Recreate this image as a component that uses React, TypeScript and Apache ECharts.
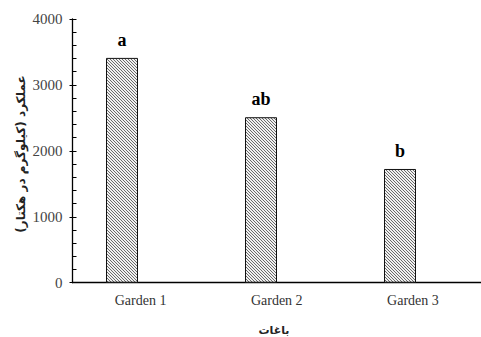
import React, { useEffect, useRef } from 'react';
import * as echarts from 'echarts';

const categories = ['Garden 1', 'Garden 2', 'Garden 3'];
const yields = [3410, 2510, 1725];
const letters = ['a', 'ab', 'b'];
const yMin = 0;
const yMax = 4000;
const yInterval = 1000;
const yTitle = 'عملکرد (کیلوگرم در هکتار)';
const xTitle = 'باغات';

function makeHatch(): HTMLCanvasElement {
  const c = document.createElement('canvas');
  c.width = 3;
  c.height = 3;
  const ctx = c.getContext('2d')!;
  ctx.fillStyle = '#f0f0f0';
  ctx.fillRect(0, 0, 3, 3);
  ctx.fillStyle = '#6a6a6a';
  for (let i = 0; i < 3; i++) {
    ctx.fillRect(i, i, 1, 1);
  }
  return c;
}

export default function App() {
  const ref = useRef<HTMLDivElement>(null);
  useEffect(() => {
    if (!ref.current) return;
    const chart = echarts.init(ref.current, null, { renderer: 'svg' });
    const hatch = makeHatch();
    const serif = 'Liberation Serif';
    const top = 19;
    const bottom = 54.3;
    chart.setOption({
      animation: false,
      textStyle: { fontFamily: serif },
      grid: [
        { left: 72.5, width: 418.5, top, bottom },
        { left: 52.5, width: 417, top, bottom },
      ],
      xAxis: [
        {
          type: 'category',
          gridIndex: 0,
          data: categories,
          axisLine: { lineStyle: { color: '#000', width: 1.3 } },
          axisTick: { show: false },
          axisLabel: { color: '#333', fontFamily: serif, fontSize: 14, margin: 11 },
        },
        {
          type: 'category',
          gridIndex: 1,
          data: categories,
          show: false,
        },
      ],
      yAxis: [
        {
          type: 'value',
          gridIndex: 0,
          min: yMin,
          max: yMax,
          interval: yInterval,
          axisLine: { show: true, lineStyle: { color: '#000', width: 1.3 } },
          axisTick: { show: true, inside: false, length: 3, lineStyle: { color: '#000' } },
          axisLabel: {
            color: '#444',
            fontFamily: serif,
            fontSize: 15,
            margin: 10,
            formatter: (v: number) => String(v),
          },
          splitLine: { show: false },
        },
        {
          type: 'value',
          gridIndex: 0,
          min: yMin,
          max: yMax,
          interval: yInterval,
          position: 'left',
          axisLine: { show: false },
          axisTick: { show: true, inside: true, length: 4, lineStyle: { color: '#000' } },
          minorTick: { show: true, splitNumber: 5, length: 4, lineStyle: { color: '#000' } },
          axisLabel: { show: false },
          splitLine: { show: false },
        },
        {
          type: 'value',
          gridIndex: 1,
          min: yMin,
          max: yMax,
          interval: yInterval,
          show: false,
          splitLine: { show: false },
        },
      ],
      series: [
        {
          type: 'bar',
          xAxisIndex: 1,
          yAxisIndex: 2,
          barWidth: 32,
          data: yields,
          itemStyle: {
            color: { image: hatch, repeat: 'repeat' },
            borderColor: '#111',
            borderWidth: 1,
          },
          label: {
            show: true,
            position: 'top',
            distance: 9,
            formatter: (p: any) => letters[p.dataIndex],
            color: '#000',
            fontFamily: serif,
            fontWeight: 'bold',
            fontSize: 18,
          },
        },
      ],
      graphic: [
        {
          type: 'text',
          x: 21,
          y: 154,
          rotation: Math.PI / 2,
          style: {
            text: yTitle,
            textAlign: 'center',
            textVerticalAlign: 'middle',
            fill: '#222',
            font: 'bold 12px "DejaVu Sans", sans-serif',
          },
        },
        {
          type: 'text',
          x: 274,
          y: 330,
          style: {
            text: xTitle,
            textAlign: 'center',
            textVerticalAlign: 'middle',
            fill: '#222',
            font: 'bold 11px "DejaVu Sans", sans-serif',
          },
        },
      ],
    });
    return () => chart.dispose();
  }, []);
  return (
    <div
      ref={ref}
      style={{ position: 'fixed', left: 0, top: 0, width: 481, height: 337, background: '#fff' }}
    />
  );
}
